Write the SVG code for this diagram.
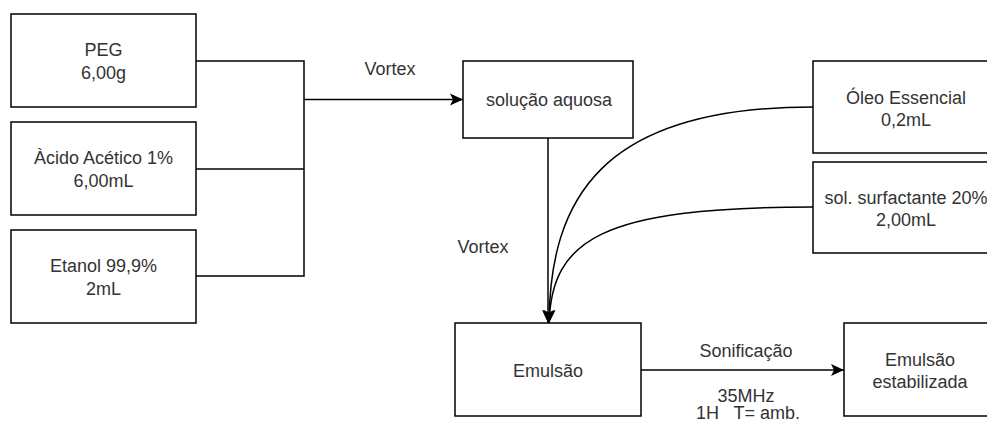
<svg xmlns="http://www.w3.org/2000/svg" width="987" height="421" viewBox="0 0 987 421">
<style>
.box{fill:#fff;stroke:#000;stroke-width:1.5}
.t{font-family:"Liberation Sans",Arial,sans-serif;font-size:18px;fill:#333;text-anchor:middle}
.c{fill:none;stroke:#000;stroke-width:1.5}
</style>
<defs>
<marker id="ah" markerUnits="userSpaceOnUse" markerWidth="14" markerHeight="14" viewBox="0 0 14 14" refX="13" refY="7" orient="auto">
<path d="M0,1 L13,7 L0,13 L3,7 z" fill="#000"/>
</marker>
</defs>
<rect width="987" height="421" fill="#fff"/>
<g id="connectors">
<polyline class="c" points="196,61 304,61 304,276 196,276"/>
<line class="c" x1="196" y1="169" x2="304" y2="169"/>
<line class="c" x1="304" y1="99.5" x2="463" y2="99.5" marker-end="url(#ah)"/>
<line class="c" x1="548" y1="138" x2="548" y2="323" marker-end="url(#ah)"/>
<path class="c" d="M813,107 C600,107 550,200 549,323" marker-end="url(#ah)"/>
<path class="c" d="M813,207 C600,207 552,240 549,323" marker-end="url(#ah)"/>
<line class="c" x1="641" y1="370" x2="844" y2="370" marker-end="url(#ah)"/>
<text class="t" x="390" y="75">Vortex</text>
<text class="t" x="483" y="253">Vortex</text>
<text class="t" x="746" y="357">Sonificação</text>
<text class="t" x="746" y="402">35MHz</text>
<text class="t" x="748" y="419" xml:space="preserve">1H   T= amb.</text>
</g>
<g id="peg"><rect class="box" x="11" y="14" width="185" height="93"/><text class="t" x="103.5" y="56">PEG</text><text class="t" x="103.5" y="79">6,00g</text></g>
<g id="acido"><rect class="box" x="11" y="122" width="185" height="93"/><text class="t" x="103.5" y="164">Àcido Acético 1%</text><text class="t" x="103.5" y="187">6,00mL</text></g>
<g id="etanol"><rect class="box" x="11" y="230" width="185" height="93"/><text class="t" x="103.5" y="272">Etanol 99,9%</text><text class="t" x="103.5" y="295">2mL</text></g>
<g id="solucao"><rect class="box" x="463" y="61" width="170" height="77"/><text class="t" x="549" y="106">solução aquosa</text></g>
<g id="oleo"><rect class="box" x="813" y="61" width="186" height="92"/><text class="t" x="906" y="104">Óleo Essencial</text><text class="t" x="906" y="126">0,2mL</text></g>
<g id="surfactante"><rect class="box" x="813" y="162" width="186" height="91"/><text class="t" x="906" y="204">sol. surfactante 20%</text><text class="t" x="906" y="226">2,00mL</text></g>
<g id="emulsao"><rect class="box" x="455" y="323" width="186" height="93"/><text class="t" x="548" y="377">Emulsão</text></g>
<g id="estabilizada"><rect class="box" x="844" y="323" width="152" height="93"/><text class="t" x="920" y="366">Emulsão</text><text class="t" x="920" y="388">estabilizada</text></g>
</svg>
